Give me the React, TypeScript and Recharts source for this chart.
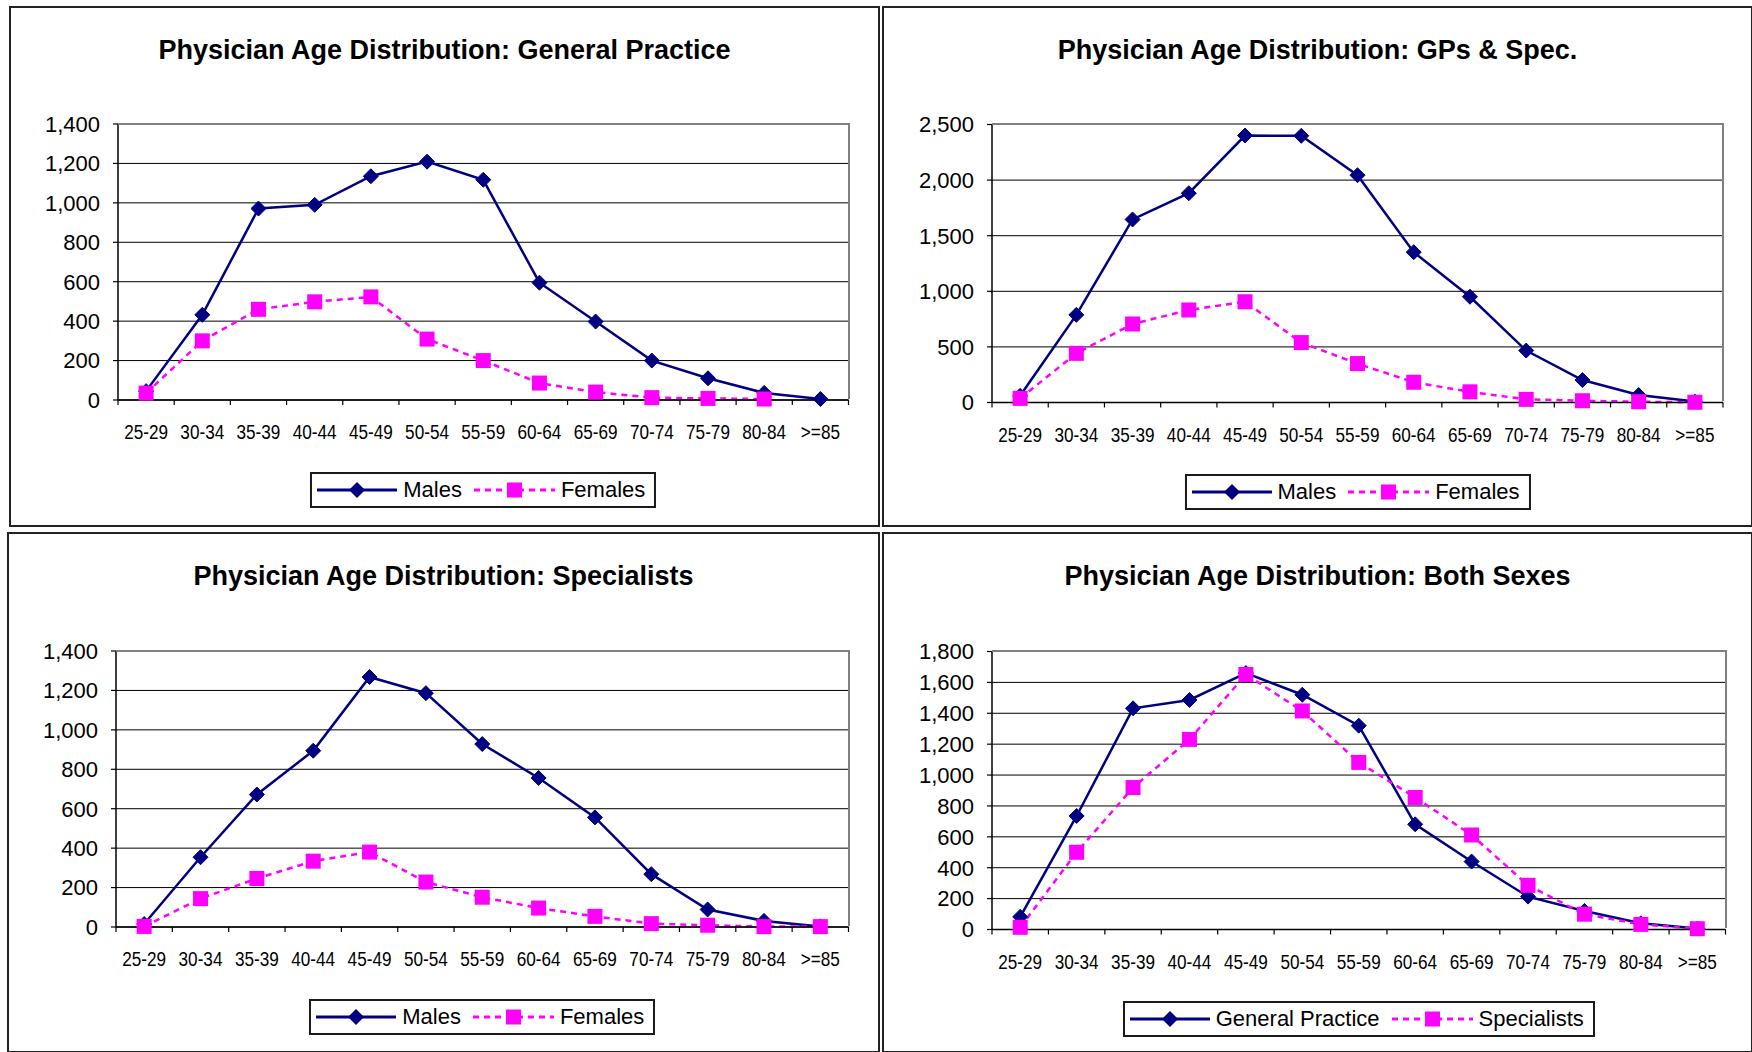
import React from 'react';
import { LineChart, Line, XAxis, YAxis, CartesianGrid, Legend } from 'recharts';

// ---------- data ----------
const ageGroups = ['25-29', '30-34', '35-39', '40-44', '45-49', '50-54', '55-59', '60-64', '65-69', '70-74', '75-79', '80-84', '>=85'];

const gpMales = [45, 432, 971, 990, 1135, 1209, 1117, 595, 398, 200, 110, 36, 5];
const gpFemales = [35, 300, 460, 498, 523, 309, 200, 86, 40, 12, 8, 5, null];

const allMales = [60, 788, 1646, 1882, 2401, 2398, 2044, 1352, 951, 467, 202, 67, 8];
const allFemales = [37, 442, 706, 832, 906, 539, 350, 182, 96, 28, 16, 7, 2];

const specMales = [15, 354, 672, 894, 1268, 1186, 928, 756, 556, 268, 89, 31, 3];
const specFemales = [3, 144, 246, 334, 380, 228, 151, 96, 54, 17, 9, 2, 2];

const bothGP = [82, 735, 1432, 1486, 1660, 1520, 1320, 681, 440, 213, 120, 40, 6];
const bothSpec = [14, 500, 919, 1231, 1651, 1415, 1082, 855, 612, 286, 99, 33, 5];

const ticks1400 = [0, 200, 400, 600, 800, 1000, 1200, 1400];
const ticks2500 = [0, 500, 1000, 1500, 2000, 2500];
const ticks1800 = [0, 200, 400, 600, 800, 1000, 1200, 1400, 1600, 1800];

const sexNames = ['Males', 'Females'];
const typeNames = ['General Practice', 'Specialists'];

// ---------- style ----------
const FONT = '"Liberation Sans", Arial, Helvetica, sans-serif';
const NAVY = '#000080';
const MAGENTA = '#FF00FF';
const Y_AXIS_W = 60;
const X_AXIS_H = 30;

const diamondPath = (cx: number, cy: number, r: number) =>
  `M${cx},${cy - r}L${cx + r},${cy}L${cx},${cy + r}L${cx - r},${cy}Z`;

const DiamondDot = (props: any) => {
  const { cx, cy } = props;
  if (cx == null || cy == null) return <g />;
  return <path d={diamondPath(cx, cy, 7.5)} fill={NAVY} stroke={NAVY} strokeWidth={1} />;
};

const SquareDot = (props: any) => {
  const { cx, cy } = props;
  if (cx == null || cy == null) return <g />;
  return <rect x={cx - 7.5} y={cy - 7.5} width={15} height={15} fill={MAGENTA} />;
};

const makeXTick = (step: number, count: number) => (props: any) => {
  const { x, y, payload, index } = props;
  const half = step / 2;
  return (
    <g>
      <line x1={x - half} x2={x - half} y1={y} y2={y + 5} stroke="#000" strokeWidth={1.2} />
      {index === count - 1 && (
        <line x1={x + half} x2={x + half} y1={y} y2={y + 5} stroke="#000" strokeWidth={1.2} />
      )}
      <text
        transform={`translate(${x} ${y + 39}) scale(0.88 1)`}
        textAnchor="middle"
        fontSize={19.5}
        fontFamily={FONT}
        fill="#000"
      >
        {payload.value}
      </text>
    </g>
  );
};

const makeLegend = (names: string[]) => () => (
  <div
    style={{
      display: 'inline-flex',
      alignItems: 'center',
      boxSizing: 'border-box',
      height: 36,
      border: '2px solid #1a1a1a',
      background: '#fff',
      padding: '0 9px 0 5px',
      fontFamily: FONT,
      fontSize: 22,
      color: '#000',
      whiteSpace: 'nowrap',
    }}
  >
    <svg width={80} height={20} style={{ display: 'block' }}>
      <line x1={0} y1={10} x2={80} y2={10} stroke={NAVY} strokeWidth={3} />
      <path d={diamondPath(40, 10, 8)} fill={NAVY} />
    </svg>
    <span style={{ marginLeft: 6 }}>{names[0]}</span>
    <svg width={81} height={20} style={{ display: 'block', marginLeft: 12 }}>
      <line x1={0} y1={10} x2={81} y2={10} stroke={MAGENTA} strokeWidth={3} strokeDasharray="6 5" />
      <rect x={33} y={2.5} width={15} height={15} fill={MAGENTA} />
    </svg>
    <span style={{ marginLeft: 6 }}>{names[1]}</span>
  </div>
);

type PanelProps = {
  title: string;
  names: string[];
  seriesA: (number | null)[];
  seriesB: (number | null)[];
  ticks: number[];
  pos: { left: number; top: number; w: number; h: number };
  plot: { left: number; right: number; top: number; bottom: number };
  legendTop: number;
};

const Panel = ({ title, names, seriesA, seriesB, ticks, pos, plot, legendTop }: PanelProps) => {
  const cw = pos.w - 4;
  const ch = pos.h - 4;
  const plotW = cw - plot.left - plot.right;
  const plotH = ch - plot.top - plot.bottom;
  const step = plotW / ageGroups.length;
  const data = ageGroups.map((age, i) => ({ age, a: seriesA[i], b: seriesB[i] }));
  const maxY = ticks[ticks.length - 1];
  return (
    <div
      style={{
        position: 'absolute',
        left: pos.left,
        top: pos.top,
        width: pos.w,
        height: pos.h,
        boxSizing: 'border-box',
        border: '2px solid #222',
        background: '#fff',
      }}
    >
      <div
        style={{
          position: 'absolute',
          left: 0,
          top: 28.5,
          width: '100%',
          textAlign: 'center',
          fontFamily: FONT,
          fontWeight: 'bold',
          fontSize: 27,
          lineHeight: '27px',
          color: '#000',
          whiteSpace: 'nowrap',
          zIndex: 2,
        }}
      >
        {title}
      </div>
      <LineChart
        width={cw}
        height={ch}
        data={data}
        margin={{
          top: plot.top,
          right: plot.right,
          left: plot.left - Y_AXIS_W,
          bottom: plot.bottom - X_AXIS_H,
        }}
      >
        <CartesianGrid horizontal vertical={false} stroke="#000" strokeWidth={1} />
        <XAxis
          dataKey="age"
          height={X_AXIS_H}
          interval={0}
          padding={{ left: step / 2, right: step / 2 }}
          axisLine={{ stroke: '#000', strokeWidth: 1.5 }}
          tickLine={false}
          tickSize={0}
          tickMargin={0}
          tick={makeXTick(step, ageGroups.length)}
        />
        <YAxis
          width={Y_AXIS_W}
          domain={[0, maxY]}
          ticks={ticks}
          interval={0}
          tickSize={5}
          tickMargin={13}
          tickLine={{ stroke: '#000', strokeWidth: 1.2 }}
          axisLine={{ stroke: '#000', strokeWidth: 1.5 }}
          tick={{ fontSize: 22, fontFamily: FONT, fill: '#000' }}
          tickFormatter={(v: number) => v.toLocaleString('en-US')}
        />
        <Line
          type="linear"
          dataKey="a"
          name={names[0]}
          stroke={NAVY}
          strokeWidth={2.5}
          dot={(p: any) => <DiamondDot key={`a${p.index}`} {...p} />}
          activeDot={false}
          isAnimationActive={false}
        />
        <Line
          type="linear"
          dataKey="b"
          name={names[1]}
          stroke={MAGENTA}
          strokeWidth={2.5}
          strokeDasharray="6 5"
          dot={(p: any) => <SquareDot key={`b${p.index}`} {...p} />}
          activeDot={false}
          isAnimationActive={false}
        />
        <Legend
          layout="horizontal"
          verticalAlign="middle"
          align="center"
          content={makeLegend(names)}
          wrapperStyle={{
            left: plot.left + plotW / 2,
            top: legendTop,
            width: 'auto',
            height: 'auto',
            transform: 'translateX(-50%)',
          }}
        />
      </LineChart>
      {/* plot-area frame (top and right edges, gray as in Excel) */}
      <div
        style={{
          position: 'absolute',
          left: plot.left,
          top: plot.top - 1.25,
          width: plotW + 1.25,
          height: plotH,
          boxSizing: 'border-box',
          borderTop: '2.5px solid #808080',
          borderRight: '2.5px solid #808080',
          pointerEvents: 'none',
        }}
      />
    </div>
  );
};

export default function App() {
  return (
    <div
      style={{
        position: 'fixed',
        left: 0,
        top: 0,
        width: 1752,
        height: 1052,
        overflow: 'hidden',
        background: '#fff',
      }}
    >
      <Panel
        title="Physician Age Distribution: General Practice"
        names={sexNames}
        seriesA={gpMales}
        seriesB={gpFemales}
        ticks={ticks1400}
        pos={{ left: 9, top: 6, w: 871, h: 521 }}
        plot={{ left: 107, right: 29.5, top: 116, bottom: 125 }}
        legendTop={464}
      />
      <Panel
        title="Physician Age Distribution: GPs & Spec."
        names={sexNames}
        seriesA={allMales}
        seriesB={allFemales}
        ticks={ticks2500}
        pos={{ left: 882, top: 6, w: 871, h: 521 }}
        plot={{ left: 108, right: 28, top: 116.5, bottom: 122.5 }}
        legendTop={466}
      />
      <Panel
        title="Physician Age Distribution: Specialists"
        names={sexNames}
        seriesA={specMales}
        seriesB={specFemales}
        ticks={ticks1400}
        pos={{ left: 7, top: 532, w: 873, h: 521 }}
        plot={{ left: 107, right: 29.5, top: 117, bottom: 124 }}
        legendTop={465}
      />
      <Panel
        title="Physician Age Distribution: Both Sexes"
        names={typeNames}
        seriesA={bothGP}
        seriesB={bothSpec}
        ticks={ticks1800}
        pos={{ left: 882, top: 532, w: 871, h: 521 }}
        plot={{ left: 108, right: 25.5, top: 117.5, bottom: 121.5 }}
        legendTop={467}
      />
    </div>
  );
}
